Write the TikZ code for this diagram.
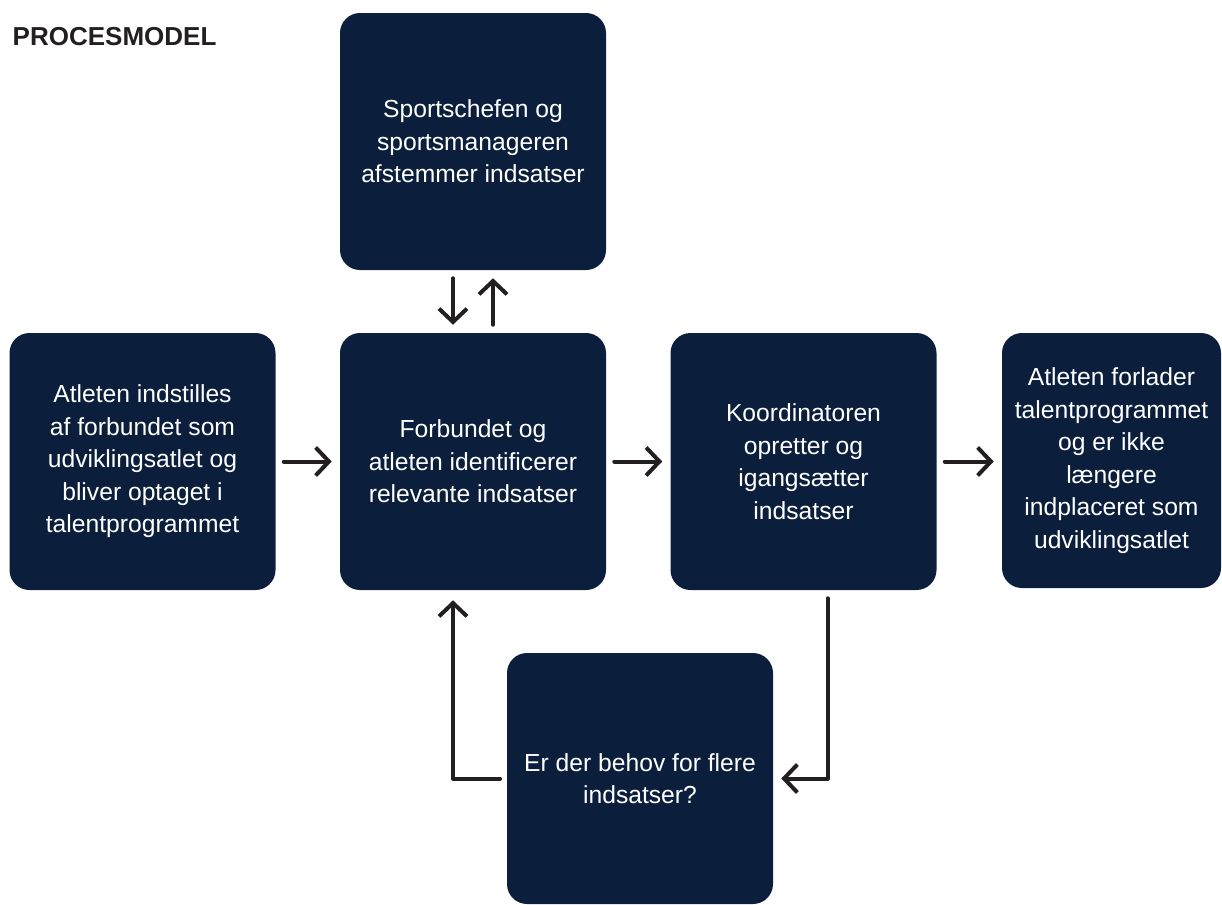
\documentclass[tikz,border=0pt]{standalone}
\usepackage{fontspec}
\setmainfont{Liberation Sans}
\usetikzlibrary{arrows.meta,calc}

\definecolor{navy}{HTML}{0B1F3C}
\definecolor{ink}{HTML}{231F20}

\begin{document}
\begin{tikzpicture}[x=0.75pt, y=-0.75pt,
  box/.style={fill=navy, text=white, rounded corners=15pt, inner sep=0pt,
    minimum width=199.5pt, minimum height=192.75pt, align=center,
    font=\fontsize{18.5}{24.4}\selectfont},
  flow/.style={draw=ink, line width=3pt, line cap=round, line join=round,
    -{Straight Barb[length=10pt,width=21pt]}, shorten >=6pt, shorten <=6pt}]

  \useasboundingbox (0,0) rectangle (1222,904);

  \newcommand\X{330.5};
  \newcommand\Y{320};

  \node[anchor=base west, text=ink, font=\bfseries\fontsize{19.5}{23}\selectfont] (title) at (8,45) {PROCESMODEL};

  %% boxes
  \node[box] (atlet)   at (142.5+0*\X, 461.5) {Atleten indstilles\\af forbundet som\\udviklingsatlet og\\bliver optaget i\\talentprogrammet};
  \node[box] (forbund) at (142.5+1*\X, 461.5) {Forbundet og\\atleten identificerer\\relevante indsatser};
  \node[box] (sport)   at (142.5+1*\X, 461.5-1*\Y) {Sportschefen og\\sportsmanageren\\afstemmer indsatser};
  \node[box] (koord)   at (142.5+2*\X, 461.5) {Koordinatoren\\opretter og\\igangsætter\\indsatser};
  \node[box, minimum width=164.25pt, minimum height=191.25pt] (forlader) at (1111.5, 460.5) {Atleten forlader\\talentprogrammet\\og er ikke\\længere\\indplaceret som\\udviklingsatlet};
  \node[box, minimum height=188.25pt] (behov) at (640, 778.5) {Er der behov for flere\\indsatser?};

  %% connectors
  \draw[flow] (atlet) -- (forbund); % atlet -> forbund
  \draw[flow] (forbund) -- (koord); % forbund -> koord
  \draw[flow] (koord.east) -- (koord.east -| forlader.west); % koord -> forlader

  \draw[flow] ($(sport.south)+(-20,0)$) -- ($(forbund.north)+(-20,0)$); % sport -> forbund
  \draw[flow] ($(forbund.north)+(20,0)$) -- ($(sport.south)+(20,0)$); % forbund -> sport

  \draw[flow] ($(koord.south)+(24,0)$) |- (behov.east); % koord -> behov
  \draw[flow, shorten >=7.5pt, shorten <=5pt] (behov.west) -| ($(forbund.south)+(-20,0)$); % behov -> forbund

\end{tikzpicture}
\end{document}
